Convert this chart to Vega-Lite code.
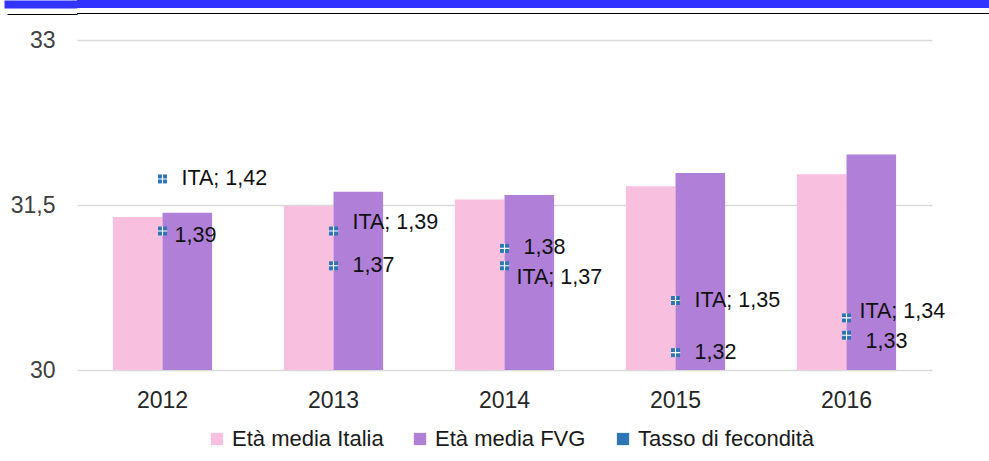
{
  "$schema": "https://vega.github.io/schema/vega-lite/v6.json",
  "background": "white",
  "padding": 0,
  "spacing": 14,
  "columns": 1,
  "config": {"view": {"stroke": null}, "font": "Liberation Sans"},
  "datasets": {
    "eta": [
      {"anno": 2012, "serie": "Età media Italia", "valore": 31.39},
      {"anno": 2012, "serie": "Età media FVG", "valore": 31.43},
      {"anno": 2013, "serie": "Età media Italia", "valore": 31.49},
      {"anno": 2013, "serie": "Età media FVG", "valore": 31.62},
      {"anno": 2014, "serie": "Età media Italia", "valore": 31.55},
      {"anno": 2014, "serie": "Età media FVG", "valore": 31.59},
      {"anno": 2015, "serie": "Età media Italia", "valore": 31.67},
      {"anno": 2015, "serie": "Età media FVG", "valore": 31.79},
      {"anno": 2016, "serie": "Età media Italia", "valore": 31.78},
      {"anno": 2016, "serie": "Età media FVG", "valore": 31.96}
    ],
    "tasso": [
      {"anno": 2012, "serie": "ITA", "valore": 1.42, "etichetta": "ITA; 1,42"},
      {"anno": 2012, "serie": "FVG", "valore": 1.39, "etichetta": "1,39"},
      {"anno": 2013, "serie": "ITA", "valore": 1.39, "etichetta": "ITA; 1,39"},
      {"anno": 2013, "serie": "FVG", "valore": 1.37, "etichetta": "1,37"},
      {"anno": 2014, "serie": "ITA", "valore": 1.37, "etichetta": "ITA; 1,37"},
      {"anno": 2014, "serie": "FVG", "valore": 1.38, "etichetta": "1,38"},
      {"anno": 2015, "serie": "ITA", "valore": 1.35, "etichetta": "ITA; 1,35"},
      {"anno": 2015, "serie": "FVG", "valore": 1.32, "etichetta": "1,32"},
      {"anno": 2016, "serie": "ITA", "valore": 1.34, "etichetta": "ITA; 1,34"},
      {"anno": 2016, "serie": "FVG", "valore": 1.33, "etichetta": "1,33"}
    ]
  },
  "concat": [
    {
      "width": 912,
      "height": 14,
      "data": {"values": [{}]},
      "layer": [
        {
          "mark": {"type": "rect", "color": "#3333FF"},
          "encoding": {
            "y": {
              "datum": 6, "type": "quantitative",
              "scale": {"domain": [0, 14], "nice": false, "zero": false},
              "axis": {
                "title": null, "values": [10, 0.5], "labels": false, "domain": false, "grid": false, "ticks": true, "tickCap": "butt",
                "tickSize": {"condition": {"test": "datum.value > 5", "value": 73}, "value": 70},
                "tickWidth": {"condition": {"test": "datum.value > 5", "value": 8}, "value": 1},
                "tickColor": {"condition": {"test": "datum.value > 5", "value": "#3333FF"}, "value": "#000000"},
                "minExtent": 77, "maxExtent": 77
              }
            },
            "y2": {"datum": 14}
          }
        },
        {
          "mark": {"type": "rect", "color": "#000000"},
          "encoding": {
            "y": {"datum": 0, "type": "quantitative"},
            "y2": {"datum": 1}
          }
        }
      ]
    },
    {
      "width": 855,
      "height": 330,
      "layer": [
        {
          "data": {"name": "eta"},
          "mark": {"type": "bar"},
          "encoding": {
            "x": {
              "field": "anno", "type": "ordinal",
              "scale": {"paddingInner": 0.42, "paddingOuter": 0.21},
              "axis": {"title": null, "labelAngle": 0, "labelFontSize": 23, "labelColor": "#262626", "ticks": false, "domain": false, "labelPadding": 19}
            },
            "xOffset": {"field": "serie", "type": "nominal", "sort": ["Età media Italia", "Età media FVG"], "scale": {"paddingInner": 0}},
            "y": {
              "field": "valore", "type": "quantitative",
              "scale": {"domain": [30, 33], "nice": false, "zero": false},
              "axis": {"title": null, "values": [30, 31.5, 33], "labelExpr": "replace(format(datum.value, '~g'), '.', ',')", "grid": true, "gridColor": "#D9D9D9", "gridWidth": 1.3, "domain": false, "ticks": false, "labelFontSize": 23, "labelColor": "#404040", "labelPadding": 22, "minExtent": 77}
            },
            "y2": {"datum": 30},
            "color": {
              "field": "serie", "type": "nominal",
              "scale": {"domain": ["Età media Italia", "Età media FVG", "Tasso di fecondità"], "range": ["#F9BFDF", "#B07FD7", "#2E75B6"]},
              "legend": {"title": null, "orient": "none", "legendX": 129, "legendY": 428, "direction": "horizontal", "gridAlign": "all", "labelFontSize": 22, "labelColor": "#1a1a1a", "labelLimit": 400, "symbolType": "square", "symbolSize": 150, "symbolStrokeWidth": 0, "columnPadding": -5, "labelOffset": 4}
            }
          }
        },
        {
          "data": {"name": "tasso"},
          "encoding": {
            "x": {"field": "anno", "type": "ordinal"},
            "y": {"field": "valore", "type": "quantitative", "scale": {"domain": [1.31, 1.5], "nice": false, "zero": false}, "axis": null}
          },
          "layer": [
            {"mark": {"type": "point", "shape": "square", "filled": true, "size": 81, "opacity": 1}, "encoding": {"color": {"datum": "Tasso di fecondità"}}},
            {"mark": {"type": "point", "shape": "M-1,-0.12H1V0.12H-1Z M-0.12,-1H0.12V1H-0.12Z", "filled": true, "size": 90, "opacity": 1, "color": "white"}},
            {
              "transform": [{"filter": "(datum.anno == 2012 && datum.serie == 'ITA') || (datum.anno == 2013 && datum.serie == 'FVG') || (datum.anno == 2014 && datum.serie == 'FVG') || datum.anno == 2015"}],
              "mark": {"type": "text", "align": "left", "baseline": "middle", "dx": 19, "dy": 0, "fontSize": 21.5, "color": "#111111"},
              "encoding": {"text": {"field": "etichetta"}}
            },
            {
              "transform": [{"filter": "datum.anno == 2012 && datum.serie == 'FVG'"}],
              "mark": {"type": "text", "align": "left", "baseline": "middle", "dx": 12, "dy": 5, "fontSize": 21.5, "color": "#111111"},
              "encoding": {"text": {"field": "etichetta"}}
            },
            {
              "transform": [{"filter": "datum.anno == 2013 && datum.serie == 'ITA'"}],
              "mark": {"type": "text", "align": "left", "baseline": "middle", "dx": 19, "dy": -8, "fontSize": 21.5, "color": "#111111"},
              "encoding": {"text": {"field": "etichetta"}}
            },
            {
              "transform": [{"filter": "datum.anno == 2014 && datum.serie == 'ITA'"}],
              "mark": {"type": "text", "align": "left", "baseline": "middle", "dx": 12, "dy": 12, "fontSize": 21.5, "color": "#111111"},
              "encoding": {"text": {"field": "etichetta"}}
            },
            {
              "transform": [{"filter": "datum.anno == 2016 && datum.serie == 'ITA'"}],
              "mark": {"type": "text", "align": "left", "baseline": "middle", "dx": 13, "dy": -6, "fontSize": 21.5, "color": "#111111"},
              "encoding": {"text": {"field": "etichetta"}}
            },
            {
              "transform": [{"filter": "datum.anno == 2016 && datum.serie == 'FVG'"}],
              "mark": {"type": "text", "align": "left", "baseline": "middle", "dx": 19, "dy": 7, "fontSize": 21.5, "color": "#111111"},
              "encoding": {"text": {"field": "etichetta"}}
            }
          ]
        }
      ],
      "resolve": {"scale": {"y": "independent"}}
    }
  ]
}
